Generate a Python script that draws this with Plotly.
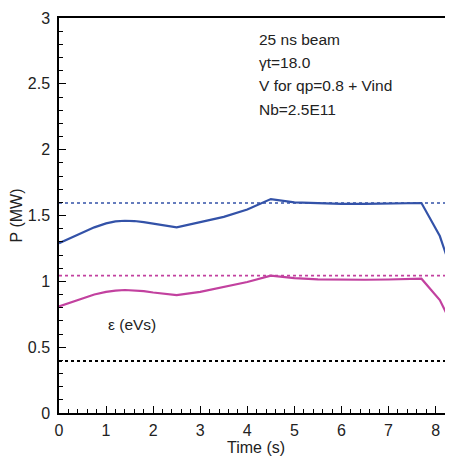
import plotly.graph_objects as go

time_s = [0.0, 0.25, 0.5, 0.75, 1.0, 1.2, 1.4, 1.6, 1.8, 2.0, 2.25, 2.5,
          3.0, 3.5, 4.0, 4.5, 5.0, 5.5, 6.0, 6.5, 7.0, 7.5, 7.7, 8.09, 8.37]
power_blue = [1.29, 1.33, 1.37, 1.41, 1.44, 1.455, 1.46, 1.458, 1.45, 1.44, 1.425, 1.41,
              1.45, 1.49, 1.545, 1.625, 1.60, 1.592, 1.588, 1.588, 1.59, 1.592, 1.595, 1.344, 1.048]
power_magenta = [0.81, 0.84, 0.87, 0.90, 0.92, 0.93, 0.934, 0.932, 0.925, 0.915, 0.905, 0.896,
                 0.92, 0.955, 0.995, 1.043, 1.025, 1.015, 1.012, 1.012, 1.014, 1.017, 1.02, 0.858, 0.655]

ref_blue = 1.595
ref_magenta = 1.043
ref_eps = 0.395
x_range = [0, 8.37]

info_lines = ["25 ns beam", "γt=18.0", "V for qp=0.8 + Vind", "Nb=2.5E11"]

BLUE = "#3352a8"
MAG = "#c2419f"
FONT = "Liberation Sans, Arial, sans-serif"

fig = go.Figure()
fig.add_trace(go.Scatter(x=x_range, y=[ref_blue, ref_blue], mode="lines",
                         line=dict(color=BLUE, width=1.6, dash="dot")))
fig.add_trace(go.Scatter(x=x_range, y=[ref_magenta, ref_magenta], mode="lines",
                         line=dict(color=MAG, width=1.6, dash="dot")))
fig.add_trace(go.Scatter(x=x_range, y=[ref_eps, ref_eps], mode="lines",
                         line=dict(color="black", width=2, dash="dot")))
fig.add_trace(go.Scatter(x=time_s, y=power_blue, mode="lines",
                         line=dict(color=BLUE, width=2.2)))
fig.add_trace(go.Scatter(x=time_s, y=power_magenta, mode="lines",
                         line=dict(color=MAG, width=2.2)))

fig.add_annotation(x=1.0, y=0.67, xref="x", yref="y", text="ε (eVs)", showarrow=False,
                   xanchor="left", yanchor="middle", font=dict(size=15.5, color="#222"))
for i, t in enumerate(info_lines):
    fig.add_annotation(x=4.2, y=2.84 - i * 0.178, xref="x", yref="y", text=t, showarrow=False,
                       xanchor="left", yanchor="middle", font=dict(size=15.5, color="#222"))

# page body has an 8px margin, so the figure is offset by 8px
fig.update_layout(
    width=445, height=451,
    margin=dict(l=51, r=0, t=10, b=46),
    paper_bgcolor="white", plot_bgcolor="white",
    showlegend=False,
    font=dict(family=FONT, color="#222"),
    xaxis=dict(range=x_range, showgrid=False, zeroline=False, automargin=False,
               showline=True, linecolor="black", linewidth=1.5, mirror=True,
               ticks="inside", ticklen=7, tickwidth=1.2, tickcolor="black",
               dtick=1, tick0=0, tickfont=dict(size=16), ticklabelstandoff=2,
               minor=dict(ticks="inside", ticklen=4, dtick=0.2, tickcolor="black", tickwidth=1),
               title=dict(text="Time (s)", font=dict(size=16), standoff=2)),
    yaxis=dict(range=[0, 3], showgrid=False, zeroline=False, automargin=False,
               showline=True, linecolor="black", linewidth=1.5,
               ticks="inside", ticklen=7, tickwidth=1.2, tickcolor="black",
               dtick=0.5, tick0=0, tickfont=dict(size=16), ticklabelstandoff=4,
               minor=dict(ticks="inside", ticklen=4, dtick=0.1, tickcolor="black", tickwidth=1),
               title=dict(text="P (MW)", font=dict(size=16), standoff=6)),
)

fig.write_html("out.html")
